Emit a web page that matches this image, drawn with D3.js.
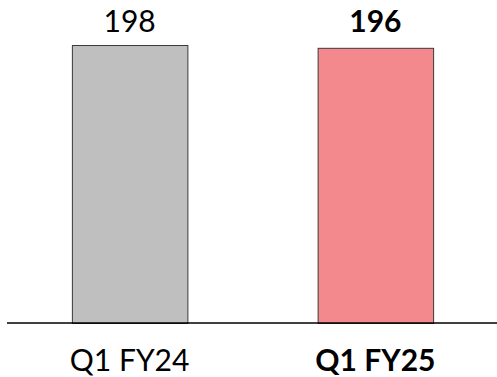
<!DOCTYPE html>
<html><head><meta charset="utf-8">
<script src="https://cdn.jsdelivr.net/npm/d3@7"></script>
<style>body{margin:0;background:#fff}svg{display:block}</style>
</head><body>
<script>
const categories = ["Q1 FY24", "Q1 FY25"];
const values = [198, 196];
const colors = ["#bfbfbf", "#f4898d"];
const bold = [false, true];

const W = 497, H = 377;
const svg = d3.select("body").append("svg").attr("width", W).attr("height", H);
const x = d3.scaleBand().domain(categories).range([8, 497]).paddingInner(0.53).paddingOuter(0.26);
const y = d3.scaleLinear().domain([0, 200]).range([323, 42.2]);

svg.selectAll("rect.bar").data(values).join("rect")
  .attr("x", (d, i) => x(categories[i]) + 0.5)
  .attr("y", d => y(d) + 0.5)
  .attr("width", x.bandwidth())
  .attr("height", d => y(0) - y(d))
  .attr("fill", (d, i) => colors[i])
  .attr("stroke", "#3a3a3a").attr("stroke-width", 1);

svg.append("line").attr("x1", 7).attr("x2", 497).attr("y1", 323).attr("y2", 323)
  .attr("stroke", "#000").attr("stroke-width", 1.5);

svg.selectAll("text.val").data(values).join("text")
  .attr("x", (d, i) => x(categories[i]) + x.bandwidth() / 2)
  .attr("y", 32)
  .attr("text-anchor", "middle")
  .attr("font-family", "Lato, 'Open Sans', sans-serif")
  .attr("font-size", 30)
  .attr("font-weight", (d, i) => bold[i] ? "bold" : "normal")
  .attr("fill", "#000")
  .text(d => d);

svg.selectAll("text.cat").data(categories).join("text")
  .attr("x", d => x(d) + x.bandwidth() / 2)
  .attr("y", 371)
  .attr("text-anchor", "middle")
  .attr("font-family", "Lato, 'Open Sans', sans-serif")
  .attr("font-size", 30)
  .attr("font-weight", (d, i) => bold[i] ? "bold" : "normal")
  .attr("fill", "#000")
  .text(d => d);
</script>
</body></html>
